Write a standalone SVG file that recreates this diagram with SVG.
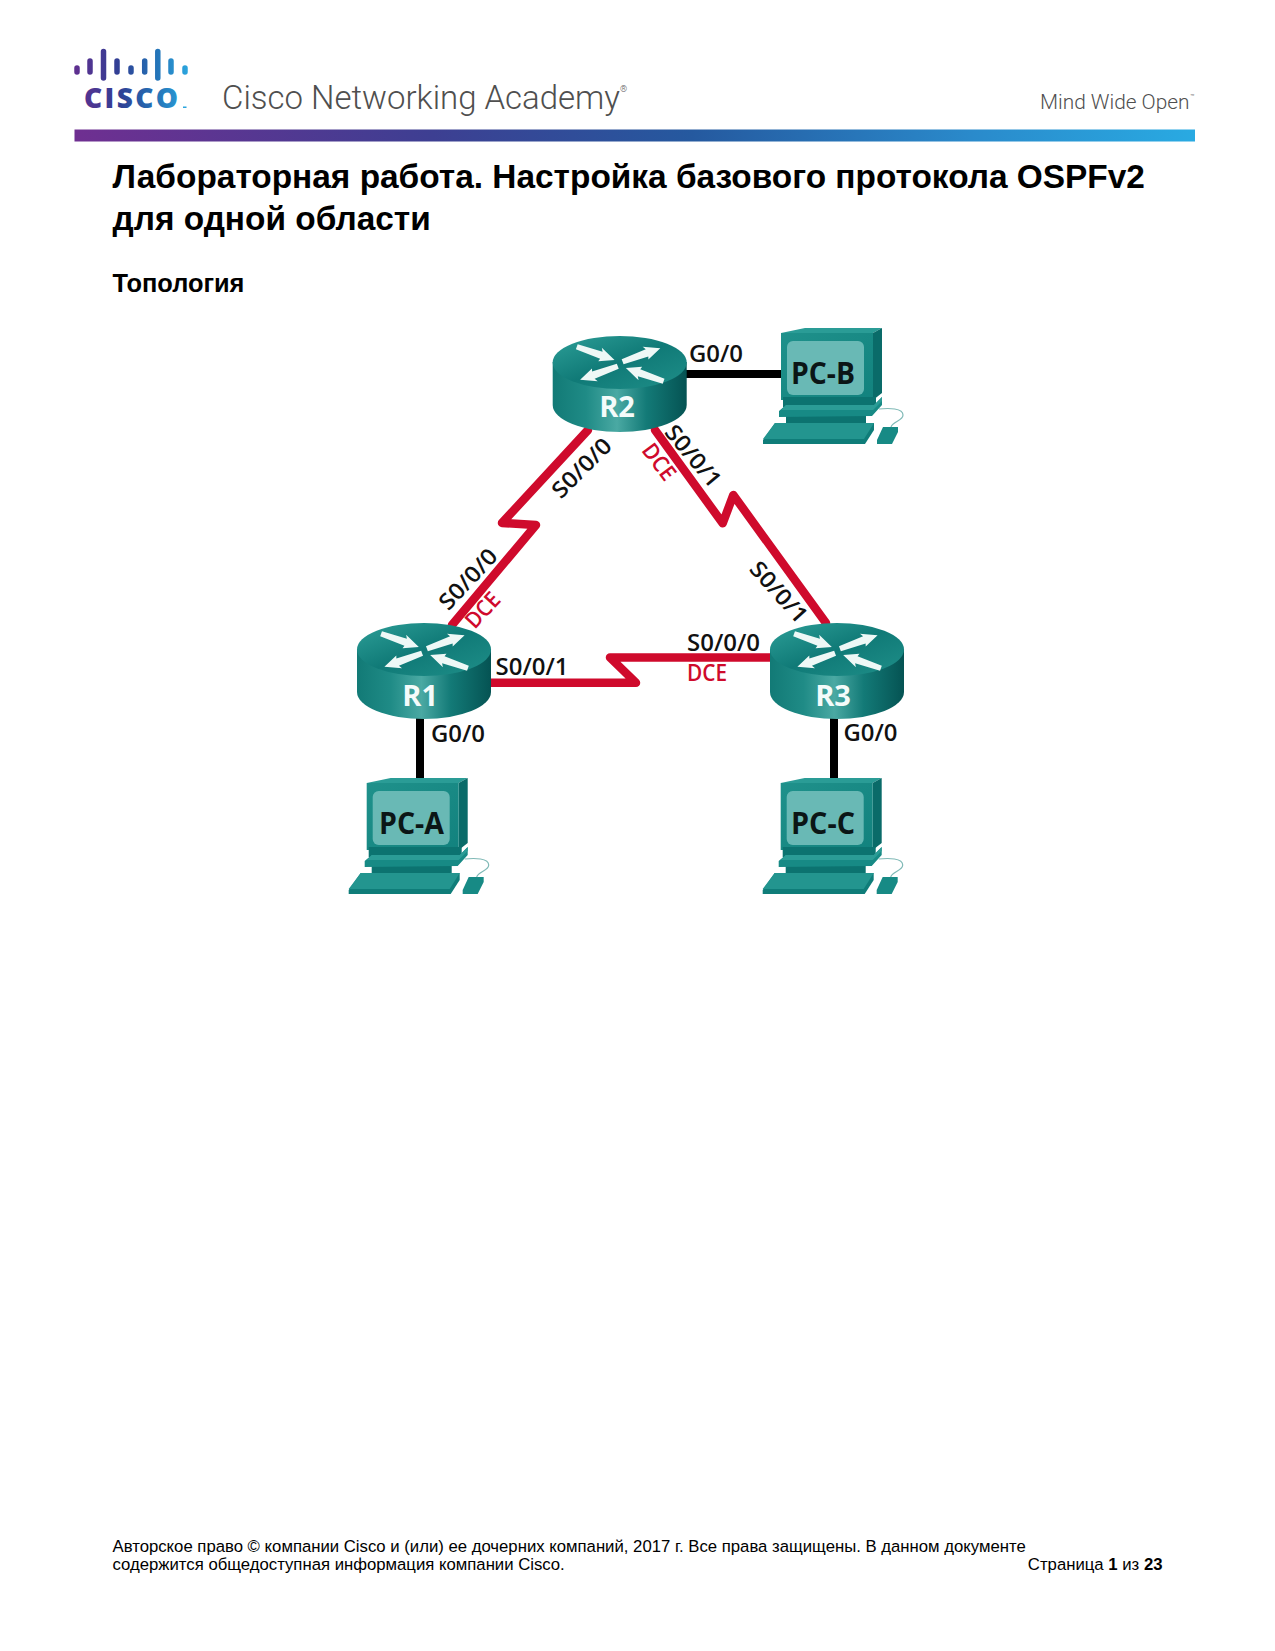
<svg xmlns="http://www.w3.org/2000/svg" width="1275" height="1651" viewBox="0 0 1275 1651">
<style>
text{font-family:"Liberation Sans",Arial,sans-serif}
.title{font-size:33.42px;font-weight:700;fill:#000}
.h2{font-size:25.4px;font-weight:700;fill:#000}
.foot{font-size:16.73px;fill:#000}
.lbl{font-family:"Open Sans","Noto Sans",sans-serif;font-size:22.5px;font-weight:600;fill:#111}
.dce{font-family:"Open Sans","Noto Sans",sans-serif;font-size:22.5px;font-weight:600;fill:#cf0a2c}
.rn{font-family:"Open Sans","Noto Sans",sans-serif;font-size:29px;font-weight:700;fill:#f4fbfa;text-anchor:middle}
.pn{font-family:"Open Sans","Noto Sans",sans-serif;font-size:30px;font-weight:700;fill:#0b1616}
.brand{font-family:Roboto,"Open Sans",sans-serif;font-weight:300;fill:#4f4f4f}
.red{fill:none;stroke:#cf0a2c;stroke-width:8.500;stroke-linejoin:round;stroke-linecap:round}
.blk{fill:none;stroke:#000;stroke-width:8}
.logo{stroke-width:5.5;stroke-linecap:round;fill:none}
</style>
<defs>
<linearGradient id="bar" x1="0" x2="1" y1="0" y2="0"><stop offset="0" stop-color="#6f2f91"/><stop offset=".32" stop-color="#3d3f92"/><stop offset=".55" stop-color="#25599f"/><stop offset=".8" stop-color="#2a8acb"/><stop offset="1" stop-color="#29aae2"/></linearGradient>
<linearGradient id="logog" gradientUnits="userSpaceOnUse" x1="75" x2="188" y1="0" y2="0"><stop offset="0" stop-color="#5f2f8f"/><stop offset=".4" stop-color="#2f4095"/><stop offset=".7" stop-color="#2470b5"/><stop offset="1" stop-color="#2ba5de"/></linearGradient>
<linearGradient id="rb" x1="0" x2="1" y1="0" y2="0"><stop offset="0" stop-color="#127a76"/><stop offset=".25" stop-color="#1f8b86"/><stop offset=".48" stop-color="#4aa9a3"/><stop offset=".7" stop-color="#137a77"/><stop offset="1" stop-color="#055353"/></linearGradient>
<linearGradient id="rt" x1="0" x2="1" y1="0" y2="1"><stop offset="0" stop-color="#2d9f98"/><stop offset=".5" stop-color="#107a77"/><stop offset="1" stop-color="#1f8f89"/></linearGradient>
<linearGradient id="pf" x1="0" x2="1" y1="0" y2="1"><stop offset="0" stop-color="#1f918b"/><stop offset="1" stop-color="#12827e"/></linearGradient>
<polygon id="ar" points="0,-3 26,-4 24,-7.500 40,0 25,6.500 26,3.500 0,2.500" fill="#eef8f6"/>
<g id="router">
<path d="M0,26V69A67,27 0 0 0 134,69V26Z" fill="url(#rb)"/>
<ellipse cx="67" cy="26.5" rx="67" ry="26.5" fill="url(#rt)"/>
<use href="#ar" transform="translate(24,11) rotate(19)"/>
<use href="#ar" transform="translate(70,26) rotate(-20)"/>
<use href="#ar" transform="translate(65,30) rotate(160)"/>
<use href="#ar" transform="translate(111,45) rotate(199)"/>
</g>
<g id="pc">
<path d="M0,0L24,-5H101L92,0Z" fill="#2a9c96"/>
<path d="M92,0L101,-5V60L92,67Z" fill="#0a6b69"/>
<rect x="0" y="0" width="92" height="67" fill="url(#pf)"/>
<rect x="6" y="8" width="77" height="54" rx="6" fill="#69b9b5"/>
<path d="M2,64H95V74H2Z" fill="#0c7370"/>
<rect x="5" y="82" width="80" height="10" fill="#0c7370"/>
<path d="M-2,78L5,72H93L101,64V72L91,83L-2,84Z" fill="#178a85"/>
<path d="M5,72H93L101,64V68L92,77H0Z" fill="#2b9c96"/>
<path d="M-6,90H93V97L84,111H-18V107Z" fill="#0f7d79"/>
<path d="M-6,90H93L83,106H-18Z" fill="#23958f"/>
<path d="M102,94H117V99L111,111H96V107Z" fill="#178a85"/>
<path d="M110,94C112,88 122,88 122,82C122,75 108,75 98,76" fill="none" stroke="#7fb9b6" stroke-width="1.2"/>
</g>
</defs>
<rect width="1275" height="1651" fill="#fff"/>
<g id="header">
<g class="logo" stroke="url(#logog)">
<path d="M77,68V72M90,61V72M103.500,51.500V78M117,61V72M131,68V72M144.700,61V72M157.800,51.500V78M171,61V72M185,68V72"/>
</g>
<text x="84" y="108" style="font-family:'Open Sans','Noto Sans',sans-serif;font-size:28px;font-weight:800;fill:url(#logog)" textLength="94" lengthAdjust="spacing">CISCO</text>
<rect x="183" y="106.500" width="3.500" height="1.500" fill="#2ba5de"/>
<text class="brand" x="222" y="109" font-size="33" textLength="398" lengthAdjust="spacingAndGlyphs">Cisco Networking Academy</text>
<text class="brand" x="620" y="92" font-size="9">®</text>
<text class="brand" x="1040" y="108.500" font-size="20" textLength="149.500" lengthAdjust="spacingAndGlyphs">Mind Wide Open</text>
<text class="brand" x="1190" y="99" font-size="7">™</text>
<rect x="74.500" y="129.500" width="1120.500" height="12" fill="url(#bar)"/>
</g>
<text class="title" x="112.500" y="187.500">Лабораторная работа. Настройка базового протокола OSPFv2</text>
<text class="title" x="112.500" y="230">для одной области</text>
<text class="h2" x="112.500" y="292">Топология</text>
<g id="connectors">
<path class="blk" d="M686,374H781"/>
<path class="blk" d="M420,718V778"/>
<path class="blk" d="M834,718V778"/>
<path class="red" d="M588,430L502,523L536,525L452,625"/>
<path class="red" d="M655,430L722.700,523.300L733.300,495L826,623"/>
<path class="red" d="M491,682.700H636L610,657.500H772"/>
</g>
<g id="R1"><use href="#router" x="357" y="623"/><text class="rn" x="420.200" y="706">R1</text></g>
<g id="R2"><use href="#router" x="552.700" y="336"/><text class="rn" x="617" y="417.300">R2</text></g>
<g id="R3"><use href="#router" x="770" y="623"/><text class="rn" x="833" y="706">R3</text></g>
<g id="PC-A"><use href="#pc" x="366.700" y="783"/><text class="pn" x="379" y="833.500" textLength="65" lengthAdjust="spacingAndGlyphs">PC-A</text></g>
<g id="PC-B"><use href="#pc" x="781" y="333"/><text class="pn" x="791" y="383.500" textLength="64" lengthAdjust="spacingAndGlyphs">PC-B</text></g>
<g id="PC-C"><use href="#pc" x="780.700" y="783"/><text class="pn" x="791" y="833.500" textLength="64" lengthAdjust="spacingAndGlyphs">PC-C</text></g>
<g id="labels">
<text class="lbl" x="689" y="362" textLength="54" lengthAdjust="spacingAndGlyphs">G0/0</text>
<text class="lbl" x="431" y="741.500" textLength="54" lengthAdjust="spacingAndGlyphs">G0/0</text>
<text class="lbl" x="843.500" y="741" textLength="54" lengthAdjust="spacingAndGlyphs">G0/0</text>
<text class="lbl" x="495.500" y="674.500" textLength="73" lengthAdjust="spacingAndGlyphs">S0/0/1</text>
<text class="lbl" x="687" y="650.500" textLength="73" lengthAdjust="spacingAndGlyphs">S0/0/0</text>
<text class="dce" x="687" y="680.500" textLength="40" lengthAdjust="spacingAndGlyphs">DCE</text>
<text class="lbl" transform="translate(581.500,468) rotate(-45)" x="-37" y="8" textLength="74" lengthAdjust="spacingAndGlyphs">S0/0/0</text>
<text class="lbl" transform="translate(693.300,456) rotate(50)" x="-37" y="8" textLength="74" lengthAdjust="spacingAndGlyphs">S0/0/1</text>
<text class="dce" transform="translate(659.300,461.700) rotate(53)" x="-20" y="8" textLength="40" lengthAdjust="spacingAndGlyphs">DCE</text>
<text class="lbl" transform="translate(779,592) rotate(48)" x="-37" y="8" textLength="74" lengthAdjust="spacingAndGlyphs">S0/0/1</text>
<text class="lbl" transform="translate(468,579) rotate(-47)" x="-37" y="8" textLength="74" lengthAdjust="spacingAndGlyphs">S0/0/0</text>
<text class="dce" transform="translate(482.500,610) rotate(-47)" x="-20" y="8" textLength="40" lengthAdjust="spacingAndGlyphs">DCE</text>
</g>
<g id="footer">
<text class="foot" x="112.500" y="1551.500">Авторское право © компании Cisco и (или) ее дочерних компаний, 2017 г. Все права защищены. В данном документе</text>
<text class="foot" x="112.500" y="1569.500">содержится общедоступная информация компании Cisco.</text>
<text class="foot" x="1162.500" y="1569.500" text-anchor="end">Страница <tspan font-weight="700">1</tspan> из <tspan font-weight="700">23</tspan></text>
</g>
</svg>
